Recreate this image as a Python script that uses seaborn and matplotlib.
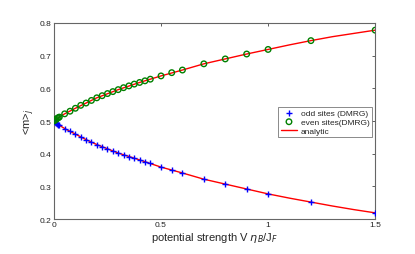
import matplotlib
matplotlib.use("Agg")
import matplotlib.pyplot as plt
import seaborn as sns
import pandas as pd

# DMRG data: potential strength V and site magnetisation
V = [0, 0.005, 0.01, 0.015, 0.02, 0.025, 0.05, 0.075, 0.1, 0.125, 0.15, 0.175,
     0.2, 0.225, 0.25, 0.275, 0.3, 0.325, 0.35, 0.375, 0.4, 0.425, 0.45,
     0.5, 0.55, 0.6, 0.7, 0.8, 0.9, 1.0, 1.2, 1.5]
m_even = [0.5, 0.503, 0.505, 0.508, 0.510, 0.512, 0.522, 0.530, 0.539, 0.548,
          0.555, 0.563, 0.571, 0.5775, 0.584, 0.590, 0.596, 0.602, 0.6075,
          0.613, 0.618, 0.623, 0.628, 0.638, 0.648, 0.656, 0.675, 0.690,
          0.705, 0.719, 0.746, 0.778]
m_odd = [0.5, 0.497, 0.494, 0.492, 0.489, 0.487, 0.477, 0.469, 0.460, 0.451,
         0.443, 0.436, 0.428, 0.421, 0.415, 0.409, 0.402, 0.397, 0.391,
         0.386, 0.381, 0.376, 0.371, 0.359, 0.349, 0.341, 0.322, 0.307,
         0.292, 0.277, 0.252, 0.219]

# analytic curves
V_an = [0, 0.01, 0.025, 0.05, 0.1, 0.15, 0.2, 0.3, 0.4, 0.5, 0.6, 0.7, 0.8,
        0.9, 1.0, 1.1, 1.2, 1.3, 1.4, 1.5]
an_even = [0.5, 0.505, 0.512, 0.522, 0.539, 0.555, 0.571, 0.596, 0.618, 0.638,
           0.656, 0.675, 0.690, 0.705, 0.719, 0.733, 0.746, 0.758, 0.768, 0.778]
an_odd = [0.5, 0.494, 0.487, 0.477, 0.460, 0.443, 0.428, 0.402, 0.381, 0.359,
          0.341, 0.322, 0.307, 0.292, 0.277, 0.264, 0.252, 0.240, 0.229, 0.219]

df = pd.DataFrame({"V": V, "odd": m_odd, "even": m_even})
an = pd.DataFrame({"V": V_an, "even": an_even, "odd": an_odd})

sns.set_style("white")
plt.rcParams['font.family'] = ['Liberation Sans', 'DejaVu Sans']

fig = plt.figure(figsize=(4.15, 2.55), dpi=100)
ax = fig.add_axes([0.130, 0.137, 0.774, 0.769])

sns.scatterplot(data=df, x="V", y="odd", marker="+", color="#0000ff", s=22,
                linewidth=1.0, ax=ax, label="odd sites (DMRG)", zorder=3)
sns.scatterplot(data=df, x="V", y="even", marker="o", facecolor="none",
                edgecolor="#008000", s=16, linewidth=1.0, ax=ax,
                label="even sites(DMRG)", zorder=3)
sns.lineplot(data=an, x="V", y="even", color="#ff0000", linewidth=1.0, ax=ax,
             label="analytic", zorder=2)
sns.lineplot(data=an, x="V", y="odd", color="#ff0000", linewidth=1.0, ax=ax,
             zorder=2)

ax.set_xlim(0, 1.5)
ax.set_ylim(0.2, 0.8)
ax.set_xticks([0, 0.5, 1, 1.5])
ax.set_xticklabels(["0", "0.5", "1", "1.5"])
ax.set_yticks([0.2, 0.3, 0.4, 0.5, 0.6, 0.7, 0.8])
ax.tick_params(direction="in", length=2.5, width=0.6, labelsize=6,
               top=True, right=True, colors="#444444", labelcolor="#222222",
               pad=1.5)
for sp in ax.spines.values():
    sp.set_color("#666666")
    sp.set_linewidth(0.8)

ax.set_xlabel(r"potential strength V $\eta_B$/J$_F$", fontsize=8, labelpad=1)
ax.set_ylabel(r"<m>$_j$", fontsize=8, labelpad=2)

leg = ax.legend(loc="center right", bbox_to_anchor=(0.995, 0.495), fontsize=6,
                frameon=True, fancybox=False, borderpad=0.3, handlelength=2.0,
                labelspacing=0.1, handletextpad=0.4, borderaxespad=0.2)
leg.get_frame().set_edgecolor("#555555")
leg.get_frame().set_linewidth(0.6)

fig.savefig("out.png", dpi=100)
